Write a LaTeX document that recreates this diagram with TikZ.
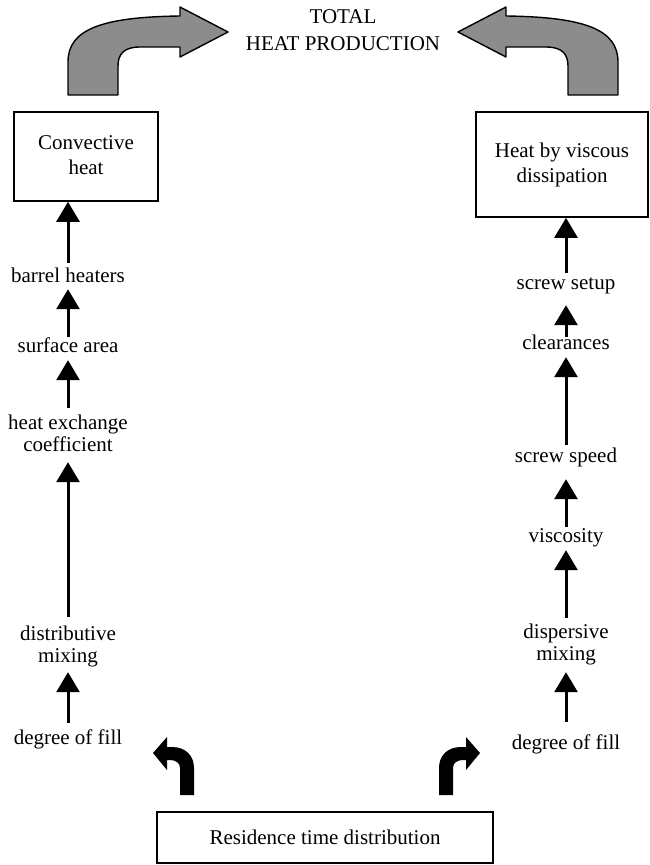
\documentclass[tikz,border=0pt]{standalone}
\usepackage{fontspec}
\setmainfont{Liberation Serif}
\usetikzlibrary{arrows.meta}
\definecolor{arrowgray}{HTML}{8C8C8C}
\tikzset{
  box/.style={draw, line width=1.6pt, align=center, inner sep=0pt, font=\fontsize{21}{25}\selectfont},
  lbl/.style={align=center, inner sep=0pt, font=\fontsize{21}{22}\selectfont},
  arr/.style={-{Triangle[width=23pt,length=20pt]}, line width=3pt},
  bigarrow/.pic={
    \draw[fill=arrowgray, line width=1.4pt, line join=round]
      (68,95) -- (68,62) .. controls (68,30) and (100,17) .. (180,16)
      -- (180,7) -- (228,32) -- (180,57) -- (180,47) -- (140,47)
      .. controls (124,47) and (118,54) .. (118,66) -- (118,95) -- cycle;
  },
  smallarrow/.pic={
    \fill[black]
      (180,795) -- (180,768) .. controls (180,763) and (176,760) .. (170,760)
      -- (167,760) -- (167,770) -- (153,753) -- (167,737) -- (167,747) -- (172,747)
      .. controls (186,747) and (194,756) .. (194,768) -- (194,795) -- cycle;
  }
}
\begin{document}
\begin{tikzpicture}[x=1pt, y=-1pt]
\useasboundingbox (0,0) rectangle (650,865);

% title
\node[lbl, font=\fontsize{21}{27}\selectfont] (total) at (343,31.5) {\strut TOTAL\\\strut HEAT PRODUCTION};

% big grey arrows
\pic at (0,0) {bigarrow};
\pic[xscale=-1] at (686,0) {bigarrow};

% boxes
\node[box, minimum width=144pt, minimum height=89pt] (conv) at (86,156.5) {\strut Convective\\\strut heat};
\node[box, minimum width=172pt, minimum height=105pt] (visc) at (562,164.5) {\strut Heat by viscous\\\strut dissipation};
\node[box, minimum width=336pt, minimum height=51pt] (rtd) at (325,837.5) {Residence time distribution};

% left column
\node[lbl] (bh)  at (68,278) {\strut barrel heaters};
\node[lbl] (sa)  at (68,348) {\strut surface area};
\node[lbl] (hec) at (68,436) {\strut heat exchange\\\strut coefficient};
\node[lbl] (dm)  at (68,647) {\strut distributive\\\strut mixing};
\node[lbl] (dof) at (68,740) {\strut degree of fill};

% right column
\node[lbl] (ss)   at (566,285) {\strut screw setup};
\node[lbl] (cl)   at (566,345) {\strut clearances};
\node[lbl] (sp)   at (566,458) {\strut screw speed};
\node[lbl] (vis)  at (566,538) {\strut viscosity};
\node[lbl] (dis)  at (566,645) {\strut dispersive\\\strut mixing};
\node[lbl] (dof2) at (566,745) {\strut degree of fill};

% left arrows
\draw[arr, shorten <=4pt] (bh.north) -- (bh.north |- conv.south);
\draw[arr] (sa.north) -- (bh.south);
\draw[arr, shorten <=6pt, shorten >=1pt] (hec.north) -- (sa.south);
\draw[arr, shorten <=8pt, shorten >=4pt] (dm.north) -- (hec.south);
\draw[arr, shorten <=6pt, shorten >=3pt] (dof.north) -- (dm.south);

% right arrows
\draw[arr, shorten <=1pt] (ss.north) -- (ss.north |- visc.south);
\draw[arr, shorten <=-3pt, shorten >=9pt] (cl.north) -- (ss.south);
\draw[arr, shorten <=2pt, shorten >=1pt] (sp.north) -- (cl.south);
\draw[arr, shorten >=10pt] (vis.north) -- (sp.south);
\draw[arr, shorten <=5pt, shorten >=1pt] (dis.north) -- (vis.south);
\draw[arr, shorten <=12pt, shorten >=5pt] (dof2.north) -- (dis.south);

% small black arrows from residence time box
\pic at (0,0) {smallarrow};
\pic[xscale=-1] at (633,0) {smallarrow};
\end{tikzpicture}
\end{document}
